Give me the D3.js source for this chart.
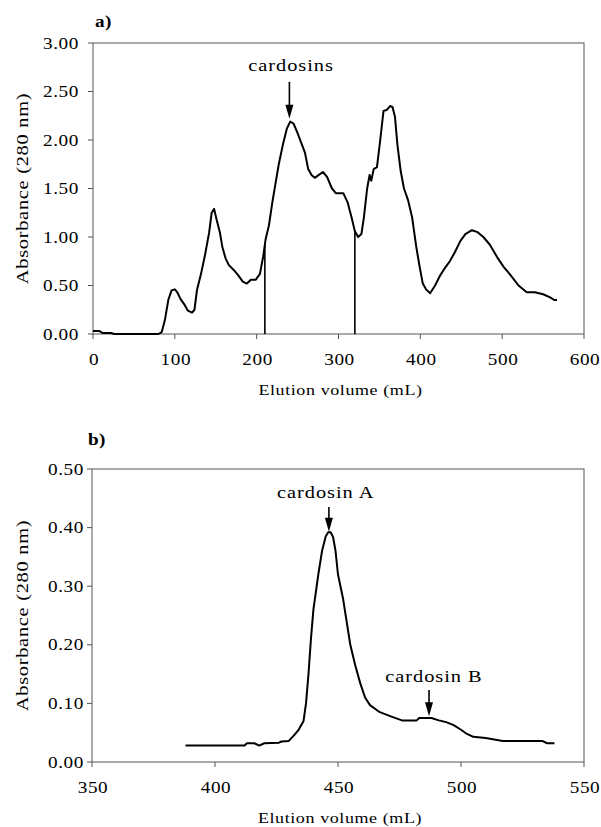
<!DOCTYPE html>
<html>
<head>
<meta charset="utf-8">
<script src="https://cdn.jsdelivr.net/npm/d3@7"></script>
<style>
  body { margin: 0; background: #fff; }
  .frame { stroke: #555; stroke-width: 1; fill: none; }
  .curve { stroke: #000; stroke-width: 2; fill: none; stroke-linejoin: round; }
  .cut { stroke: #000; stroke-width: 1.6; }
</style>
</head>
<body>
<div id="chart"></div>
<script>
// ---- panel a) : first column ----
var volA = [0, 8, 12, 22, 26, 80, 84, 88, 92, 96, 100, 103, 107, 112, 116, 121, 124, 127, 132, 137,
    142, 145, 148, 151, 155, 158, 162, 166, 172, 178, 183, 188, 193, 199, 204, 208, 211, 215, 219, 223,
    227, 232, 237, 241, 245, 250, 254, 259, 263, 267, 271, 276, 281, 286, 292, 297, 306, 311, 316, 320,
    324, 328, 331, 335, 338, 340, 343, 347, 351, 355, 359, 363, 366, 369, 372, 376, 380, 385, 390, 395,
    399, 403, 407, 412, 418, 424, 430, 436, 442, 449, 455, 463, 470, 477, 485, 494, 502, 510, 520, 530,
    540, 550, 558, 564, 567];
var absA = [0.03, 0.03, 0.01, 0.01, 0, 0, 0.02, 0.15, 0.35, 0.45, 0.46, 0.43, 0.36, 0.30, 0.24, 0.22, 0.25, 0.45, 0.62, 0.82,
    1.05, 1.25, 1.29, 1.18, 1.05, 0.90, 0.78, 0.71, 0.66, 0.60, 0.54, 0.52, 0.56, 0.56, 0.62, 0.80, 0.98, 1.12, 1.35, 1.55,
    1.75, 1.95, 2.12, 2.19, 2.17, 2.07, 1.98, 1.87, 1.70, 1.64, 1.61, 1.64, 1.67, 1.62, 1.50, 1.45, 1.45, 1.36, 1.20, 1.06,
    1.00, 1.03, 1.20, 1.50, 1.64, 1.58, 1.70, 1.72, 2.00, 2.30, 2.31, 2.35, 2.34, 2.24, 1.95, 1.68, 1.50, 1.38, 1.20, 0.90,
    0.70, 0.52, 0.46, 0.42, 0.50, 0.60, 0.68, 0.75, 0.84, 0.96, 1.03, 1.07, 1.05, 1.00, 0.92, 0.79, 0.69, 0.61, 0.50, 0.43,
    0.43, 0.41, 0.38, 0.35, 0.35];
var cutsA = [210, 320];   // fraction pooled between these volumes
var xTicksA = [0, 100, 200, 300, 400, 500, 600];
var yTicksA = [0, 0.5, 1, 1.5, 2, 2.5, 3];

// ---- panel b) : second column ----
var volB = [388, 412, 413, 416, 418, 420, 426, 427, 430, 432, 434, 436, 437, 438, 439, 440, 441, 442, 443.5, 445,
    446, 447, 448, 449, 450, 452, 453.5, 455, 457, 459, 461, 463, 467, 472, 476, 482, 483, 488, 491, 494,
    497, 500, 502, 505, 510, 517, 533, 535, 538];
var absB = [0.028, 0.028, 0.032, 0.032, 0.028, 0.032, 0.033, 0.035, 0.036, 0.045, 0.055, 0.070, 0.10, 0.15, 0.21, 0.26, 0.29, 0.32, 0.36, 0.385,
    0.392, 0.392, 0.384, 0.36, 0.32, 0.28, 0.24, 0.20, 0.165, 0.135, 0.11, 0.097, 0.085, 0.077, 0.071, 0.071, 0.075, 0.075, 0.071, 0.068,
    0.063, 0.055, 0.049, 0.043, 0.041, 0.036, 0.036, 0.032, 0.032];
var xTicksB = [350, 400, 450, 500, 550];
var yTicksB = [0, 0.1, 0.2, 0.3, 0.4, 0.5];

// annotations: label, arrow x, arrow start/end absorbance, label x/y
var notesA = [{label: "cardosins", x: 240, y0: 2.60, y1: 2.22, lx: 242, ly: 2.71}];
var notesB = [
    {label: "cardosin A", x: 446.3, y0: 0.435, y1: 0.393, lx: 445, ly: 0.45},
    {label: "cardosin B", x: 487, y0: 0.123, y1: 0.078, lx: 489, ly: 0.137}
];

var SX = 1.2; // the scanned lettering is wider than Times

var svg = d3.select("#chart").append("svg")
    .attr("width", 601)
    .attr("height", 827);

// place text with the wide scale applied in its own frame
function label(g, str, x, y, opts) {
    opts = opts || {};
    var t = g.append("text")
        .attr("transform", "translate(" + x + "," + y + ")" + (opts.rotate ? " rotate(" + opts.rotate + ")" : "") + " scale(" + SX + ",1)")
        .attr("text-anchor", opts.anchor || "middle")
        .style("font-family", "'Liberation Serif', 'Times New Roman', serif")
        .style("font-size", (opts.size || 16) + "px")
        .style("letter-spacing", (opts.ls == null ? 0.5 : opts.ls) + "px")
        .style("fill", "#000")
        .text(str);
    if (opts.bold) t.style("font-weight", "bold");
    return t;
}

function panel(cfg) {
    var g = svg.append("g").attr("transform", "translate(" + cfg.left + "," + cfg.top + ")");
    var x = d3.scaleLinear().domain(cfg.xdom).range([0, cfg.w]);
    var y = d3.scaleLinear().domain(cfg.ydom).range([cfg.h, 0]);

    // frame
    g.append("rect").attr("class", "frame")
        .attr("x", 0).attr("y", 0).attr("width", cfg.w).attr("height", cfg.h);

    // ticks
    g.selectAll(".xt").data(cfg.xticks).enter().append("line")
        .attr("class", "frame")
        .attr("x1", function (d) { return x(d); }).attr("x2", function (d) { return x(d); })
        .attr("y1", cfg.h).attr("y2", cfg.h + 5);
    g.selectAll(".yt").data(cfg.yticks).enter().append("line")
        .attr("class", "frame")
        .attr("x1", -5).attr("x2", 0)
        .attr("y1", function (d) { return y(d); }).attr("y2", function (d) { return y(d); });

    cfg.xticks.forEach(function (d) {
        label(g, d3.format("d")(d), x(d) + 1, cfg.h + 31, {size: 16});
    });
    cfg.yticks.forEach(function (d) {
        label(g, d3.format(".2f")(d), cfg.ylabX, y(d) + 5.5, {size: 16, anchor: "end"});
    });

    // axis titles
    label(g, "Elution volume (mL)", cfg.w / 2 + 2, cfg.h + cfg.titleDy, {size: 15});
    label(g, "Absorbance (280 nm)", 28 - cfg.left, cfg.h / 2, {size: 17, rotate: -90, ls: 0.6});
    label(g, cfg.tag, cfg.tagX, cfg.tagY, {size: 16, anchor: "start", bold: true, ls: 0.3});

    // fraction cut lines
    (cfg.cuts || []).forEach(function (c) {
        var v = cfg.vol, a = cfg.abs, i = d3.bisectLeft(v, c);
        var t = (c - v[i - 1]) / (v[i] - v[i - 1]);
        var val = a[i - 1] + t * (a[i] - a[i - 1]);
        g.append("line").attr("class", "cut")
            .attr("x1", x(c)).attr("x2", x(c))
            .attr("y1", y(0)).attr("y2", y(val));
    });

    // trace
    var line = d3.line()
        .x(function (d) { return x(d[0]); })
        .y(function (d) { return y(d[1]); });
    g.append("path").attr("class", "curve")
        .attr("d", line(d3.zip(cfg.vol, cfg.abs)));

    // arrows
    cfg.notes.forEach(function (n) {
        var ax = x(n.x), a0 = y(n.y0), a1 = y(n.y1);
        g.append("line").attr("x1", ax).attr("x2", ax).attr("y1", a0).attr("y2", a1 - 8)
            .attr("stroke", "#000").attr("stroke-width", 1.6);
        g.append("path")
            .attr("d", "M" + (ax - 4) + "," + (a1 - 14) + "L" + (ax + 4) + "," + (a1 - 14) + "L" + ax + "," + a1 + "Z")
            .attr("fill", "#000");
        label(g, n.label, x(n.lx), y(n.ly), {size: 17, ls: 0.8});
    });
}

panel({
    left: 93, top: 43, w: 491, h: 291,
    xdom: [0, 600], ydom: [0, 3],
    xticks: xTicksA, yticks: yTicksA,
    vol: volA, abs: absA, cuts: cutsA, notes: notesA,
    ylabX: -14, titleDy: 61, tag: "a)", tagX: 2, tagY: -16
});

panel({
    left: 92, top: 469, w: 492, h: 293,
    xdom: [350, 550], ydom: [0, 0.5],
    xticks: xTicksB, yticks: yTicksB,
    vol: volB, abs: absB, notes: notesB,
    ylabX: -8, titleDy: 61, tag: "b)", tagX: -4, tagY: -24
});
</script>
</body>
</html>
